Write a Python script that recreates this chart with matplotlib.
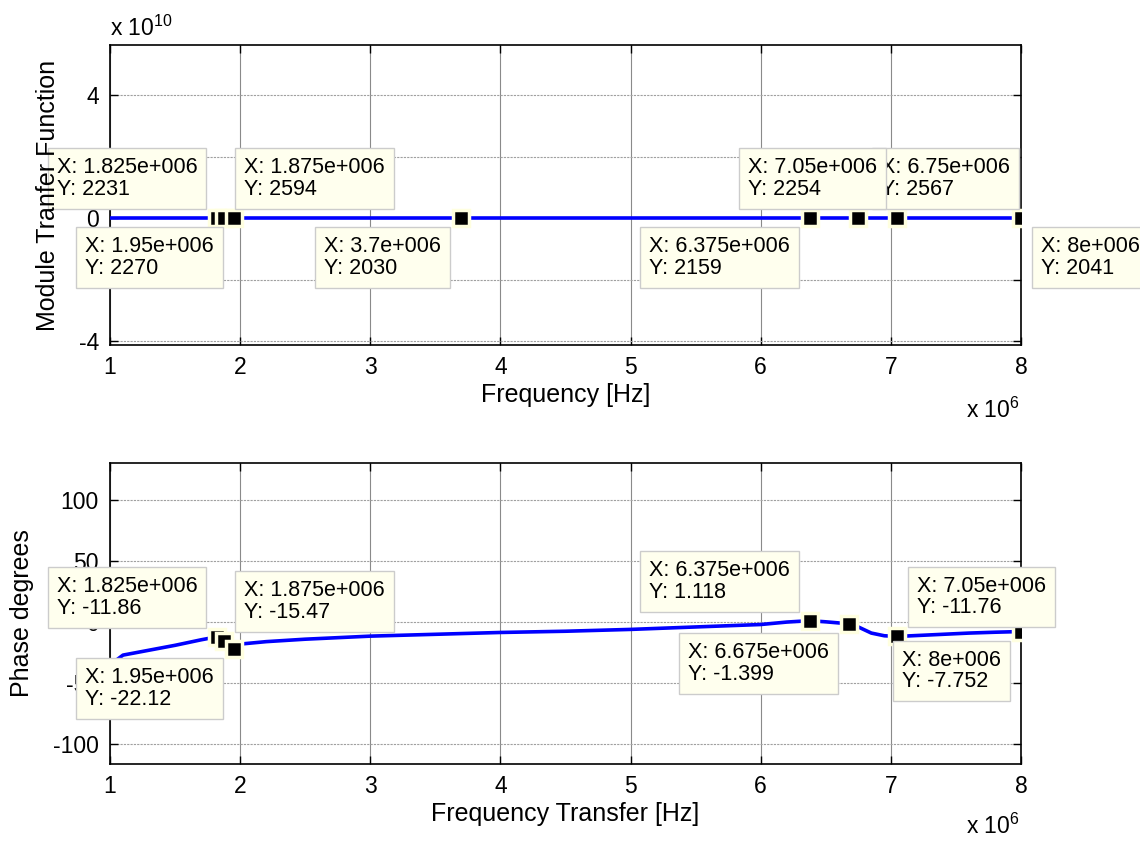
import matplotlib
matplotlib.use('Agg')
import matplotlib.pyplot as plt

plt.rcParams['font.family'] = ['Liberation Sans', 'DejaVu Sans']
plt.rcParams['mathtext.fontset'] = 'custom'
plt.rcParams['mathtext.rm'] = 'Liberation Sans'
plt.rcParams['axes.unicode_minus'] = False

# module of the transfer function (tiny next to the 1e10 axis scale)
mag_freq = [1.0e6, 1.825e6, 1.875e6, 1.95e6, 3.7e6, 6.375e6, 6.75e6, 7.05e6, 8.0e6]
mag_vals = [2100, 2231, 2594, 2270, 2030, 2159, 2567, 2254, 2041]

# phase in degrees
phase_freq = [1.0e6, 1.1e6, 1.3e6, 1.5e6, 1.7e6, 1.8e6, 1.825e6, 1.85e6, 1.875e6,
              1.9e6, 1.95e6, 2.0e6, 2.2e6, 2.5e6, 3.0e6, 3.5e6, 4.0e6, 4.5e6,
              5.0e6, 5.5e6, 6.0e6, 6.2e6, 6.375e6, 6.5e6, 6.675e6, 6.75e6,
              6.85e6, 6.95e6, 7.05e6, 7.2e6, 7.4e6, 7.6e6, 7.8e6, 8.0e6]
phase_vals = [-35, -27, -23, -19, -14.5, -12.5, -11.86, -13.5, -15.47,
              -18, -22.12, -18, -16, -14, -11.5, -10, -8.5, -7.5,
              -6, -4, -2, 0, 1.118, 0.2, -1.399, -4,
              -9, -11.2, -11.76, -11, -10, -9, -8.3, -7.752]

# data tips: frequency, value, box side
top_tip_freq = [1.825e6, 1.875e6, 1.95e6, 3.7e6, 6.375e6, 6.75e6, 7.05e6, 8.0e6]
top_tip_vals = [2231, 2594, 2270, 2030, 2159, 2567, 2254, 2041]
top_tip_side = ['ul', 'ur', 'll', 'll', 'll', 'ul', 'ul', 'lr']
top_tip_shift = [0, 0, 0, 0, 0, 172, 0, 0]

bot_tip_freq = [1.825e6, 1.875e6, 1.95e6, 6.375e6, 6.675e6, 7.05e6, 8.0e6]
bot_tip_vals = [-11.86, -15.47, -22.12, 1.118, -1.399, -11.76, -7.752]
bot_tip_side = ['ul', 'ur', 'll', 'ul', 'll', 'ur', 'll']

W, H = 1140, 841
fig = plt.figure(figsize=(W / 100, H / 100), dpi=100)
ax1 = fig.add_axes([110 / W, 1 - 345 / H, 911 / W, 300 / H])
ax2 = fig.add_axes([110 / W, 1 - 764 / H, 911 / W, 301 / H])

TIP_FS = 15.5
PAD = 0.42
TICK_FS = 16.5
LABEL_FS = 18


def fmt_x(f):
    return '{:g}e+006'.format(f / 1e6)


def add_tip(ax, f, v, side, shift=0):
    ha = 'right' if side[1] == 'l' else 'left'
    va = 'bottom' if side[0] == 'u' else 'top'
    pad_px = PAD * TIP_FS * 100 / 72
    dx = -(11 + pad_px) if ha == 'right' else 11 + pad_px
    dy = 9 + pad_px if va == 'bottom' else -(9 + pad_px)
    ax.annotate('X: {}\nY: {:g}'.format(fmt_x(f), v), xy=(f, v),
                xytext=(dx + shift, dy), textcoords='offset pixels',
                ha=ha, va=va, multialignment='left', linespacing=1.05,
                fontsize=TIP_FS,
                bbox=dict(boxstyle='square,pad=%g' % PAD, fc='#FFFFEE',
                          ec='#CCCCCC', lw=1),
                zorder=6, annotation_clip=False)


def style(ax):
    ax.set_xlim(1e6, 8e6)
    ax.set_xticks([1e6, 2e6, 3e6, 4e6, 5e6, 6e6, 7e6, 8e6])
    ax.set_xticklabels(['1', '2', '3', '4', '5', '6', '7', '8'])
    ax.tick_params(direction='in', length=6, width=1, top=True, right=True,
                   labelsize=TICK_FS, pad=8)
    ax.xaxis.grid(True, linestyle='-', color='#8a8a8a', linewidth=0.8)
    ax.yaxis.grid(True, linestyle=(0, (2, 1)), color='#a0a0a0', linewidth=0.8)
    ax.set_axisbelow(True)
    for s in ax.spines.values():
        s.set_linewidth(1.2)


# top panel
ax1.plot(mag_freq, mag_vals, color='#0000FF', linewidth=2.6, zorder=3)
for f, v in zip(top_tip_freq, top_tip_vals):
    ax1.plot([f], [v], marker='s', markersize=12, markerfacecolor='black',
             markeredgecolor='#FFFFE0', markeredgewidth=2.5, zorder=4)
for f, v, s, sh in zip(top_tip_freq, top_tip_vals, top_tip_side, top_tip_shift):
    add_tip(ax1, f, v, s, sh)
style(ax1)
ax1.set_ylim(-4.13e10, 5.63e10)
ax1.set_yticks([-4e10, -2e10, 0, 2e10, 4e10])
# the 2 and -2 labels sit under the data tips and cannot be seen
ax1.set_yticklabels(['-4', '', '0', '', '4'])
ax1.set_xlabel('Frequency [Hz]', fontsize=LABEL_FS, labelpad=3)

# bottom panel
ax2.plot(phase_freq, phase_vals, color='#0000FF', linewidth=2.6, zorder=3)
for f, v in zip(bot_tip_freq, bot_tip_vals):
    ax2.plot([f], [v], marker='s', markersize=12, markerfacecolor='black',
             markeredgecolor='#FFFFE0', markeredgewidth=2.5, zorder=4)
for f, v, s in zip(bot_tip_freq, bot_tip_vals, bot_tip_side):
    add_tip(ax2, f, v, s)
style(ax2)
ax2.set_ylim(-116, 130)
ax2.set_yticks([-100, -50, 0, 50, 100])
ax2.set_xlabel('Frequency Transfer [Hz]', fontsize=LABEL_FS, labelpad=3)

# labels drawn over the data tips
fig.text(48 / W, 1 - 195 / H, 'Module Tranfer Function', rotation=90,
         ha='center', va='center', fontsize=LABEL_FS, zorder=10)
fig.text(22 / W, 1 - 613 / H, 'Phase degrees', rotation=90,
         ha='center', va='center', fontsize=LABEL_FS, zorder=10)
fig.text(110 / W, 1 - 28 / H, r'x 10$^{10}$', ha='left', va='center', fontsize=TICK_FS)
fig.text(1020 / W, 1 - 410 / H, r'x 10$^{6}$', ha='right', va='center', fontsize=TICK_FS)
fig.text(1020 / W, 1 - 826 / H, r'x 10$^{6}$', ha='right', va='center', fontsize=TICK_FS)

plt.savefig('out.png', dpi=100)
plt.close()
